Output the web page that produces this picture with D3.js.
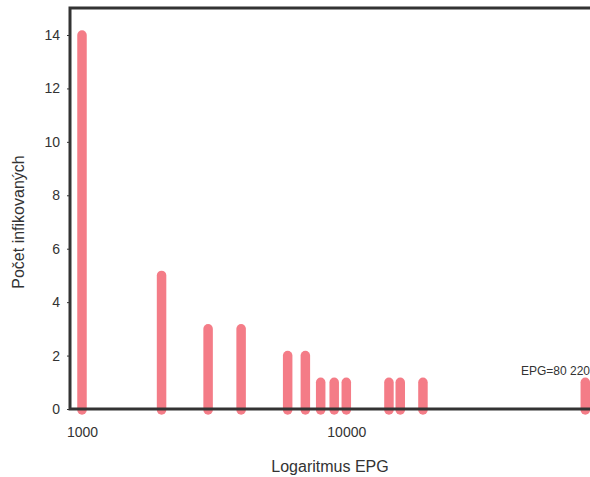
<!DOCTYPE html>
<html>
<head>
<meta charset="utf-8">
<script src="https://cdn.jsdelivr.net/npm/d3@7"></script>
<style>
  body { margin: 0; background: #fff; }
  svg { display: block; font-family: "Liberation Sans", Arial, sans-serif; }
</style>
</head>
<body>
<svg id="chart" width="590" height="477"></svg>
<script>
// EPG values (log scale) and number of infected
const epg    = [1000, 2000, 3000, 4000, 6000, 7000, 8000, 9000, 10000, 14500, 16000, 19500, 80220]
const counts = [14, 5, 3, 3, 2, 2, 1, 1, 1, 1, 1, 1, 1]
const yTicks = [0, 2, 4, 6, 8, 10, 12, 14]
const xTicks = [1000, 10000]
const note   = 'EPG=80 220'

const svg = d3.select('#chart')
const frame = {left: 70, top: 8, right: 640, bottom: 409}

const x = d3.scaleLog().domain([1000, 100000]).range([82, 610.6])
const y = d3.scaleLinear().domain([0, 14]).range([409, 35])

const ink = '#333'

// y axis ticks + labels
const yAxis = d3.axisLeft(y).tickValues(yTicks).tickSize(3).tickPadding(7).tickFormat(d3.format('d'))
const gy = svg.append('g').attr('transform', `translate(${frame.left},0)`).call(yAxis)
gy.select('.domain').remove()
gy.selectAll('line').attr('stroke', ink)
gy.selectAll('text').attr('fill', ink).style('font-size', '14px')

// x axis ticks + labels
const xAxis = d3.axisBottom(x).tickValues(xTicks).tickSize(4).tickPadding(14).tickFormat(d3.format('d'))
const gx = svg.append('g').attr('transform', `translate(0,${frame.bottom})`).call(xAxis)
gx.select('.domain').remove()
gx.selectAll('line').attr('stroke', ink)
gx.selectAll('text').attr('fill', ink).style('font-size', '14px')

// bars as thick rounded lines
svg.append('g').selectAll('line.bar')
  .data(epg.map((e, i) => ({e, c: counts[i]})))
  .join('line')
  .attr('class', 'bar')
  .attr('x1', d => x(d.e)).attr('x2', d => x(d.e))
  .attr('y1', y(0) + 1).attr('y2', d => y(d.c))
  .attr('stroke', '#f47c87')
  .attr('stroke-width', 9.5)
  .attr('stroke-linecap', 'round')

// frame: left, top and bottom lines
svg.append('path')
  .attr('d', `M${frame.right},${frame.top}H${frame.left}V${frame.bottom}H${frame.right}`)
  .attr('fill', 'none')
  .attr('stroke', ink)
  .attr('stroke-width', 3)

// note for the far value
svg.append('text')
  .attr('x', 590).attr('y', 375)
  .attr('text-anchor', 'end')
  .attr('fill', ink)
  .style('font-size', '12px')
  .text(note)

// axis titles
svg.append('text')
  .attr('x', 330).attr('y', 472)
  .attr('text-anchor', 'middle')
  .attr('fill', ink)
  .style('font-size', '16px')
  .text('Logaritmus EPG')

svg.append('text')
  .attr('transform', 'translate(24,222) rotate(-90)')
  .attr('text-anchor', 'middle')
  .attr('fill', ink)
  .style('font-size', '16px')
  .text('Počet infikovaných')
</script>
</body>
</html>
